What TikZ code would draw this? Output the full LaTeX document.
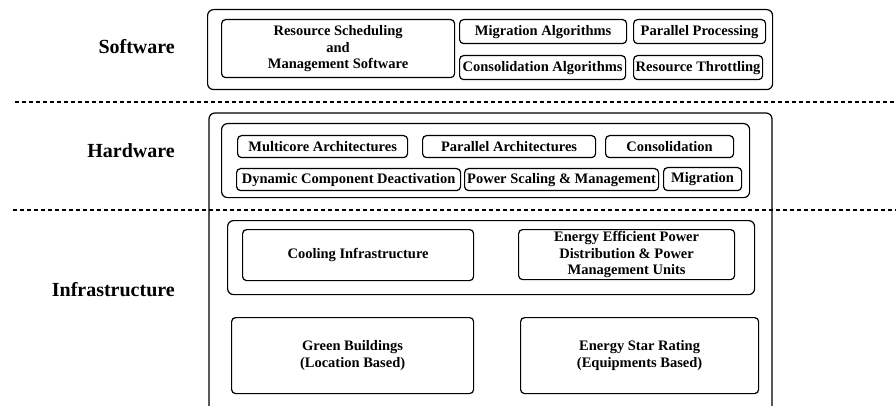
\documentclass[tikz,border=0pt]{standalone}
\usepackage{fontspec}
\setmainfont{Liberation Serif}
\begin{document}
\begin{tikzpicture}[x=1pt,y=-1pt,
  box/.style={draw, line width=1.2pt, rounded corners=4pt, align=center, inner sep=0pt,
    font=\fontsize{14.5}{16.5}\selectfont\bfseries, anchor=north west},
  panel/.style={draw, line width=1.2pt, rounded corners=6pt, inner sep=0pt, anchor=north west},
  sidelabel/.style={anchor=base east, inner sep=0pt, font=\fontsize{20}{24}\selectfont\bfseries},
  sepline/.style={line width=1.2pt, dash pattern=on 3.5pt off 3.5pt},
  bigframe/.style={line width=1.2pt, rounded corners=6pt}]
\useasboundingbox (0,0) rectangle (896,406);
% separators
\coordinate (s1a) at (15,102); \coordinate (s1b) at (896,102);
\coordinate (s2a) at (13,210); \coordinate (s2b) at (896,210);
\draw[sepline] (s1a) -- (s1b);
\draw[sepline] (s2a) -- (s2b);
% side labels
\node[sidelabel] (lsw) at (175,54) {Software};
\node[sidelabel] (lhw) at (175,158) {Hardware};
\node[sidelabel] (lin) at (175,296) {Infrastructure};
% software
\node[panel, minimum width=565pt, minimum height=80pt] (sw) at (207,9) {};
\node[box, minimum width=233pt, minimum height=58pt] (rs) at (221,19) {Resource Scheduling\\and\\Management Software};
\node[box, minimum width=167pt, minimum height=24pt] (ma) at (459,19) {Migration Algorithms};
\node[box, minimum width=132pt, minimum height=24pt] (pp) at (633,19) {Parallel Processing};
\node[box, minimum width=166pt, minimum height=24pt] (ca) at (459,55) {Consolidation Algorithms};
\node[box, minimum width=129pt, minimum height=24pt] (rt) at (633,55) {Resource Throttling};
% big frame (hardware + infrastructure)
\coordinate (fbl) at (209,406); \coordinate (ftl) at (209,113);
\coordinate (ftr) at (772,113); \coordinate (fbr) at (772,406);
\draw[bigframe] (fbl) -- (ftl) -- (ftr) -- (fbr);
% hardware
\node[panel, minimum width=528pt, minimum height=74pt] (hw) at (221,123) {};
\node[box, minimum width=170pt, minimum height=22pt] (mca) at (237,135) {Multicore Architectures};
\node[box, minimum width=173pt, minimum height=22pt] (pa) at (422,135) {Parallel Architectures};
\node[box, minimum width=128pt, minimum height=22pt] (cons) at (605,135) {Consolidation};
\node[box, minimum width=224pt, minimum height=22pt] (dcd) at (236,168) {Dynamic Component Deactivation};
\node[box, minimum width=194pt, minimum height=22pt] (psm) at (464,168) {Power Scaling \& Management};
\node[box, minimum width=78pt, minimum height=23pt] (mig) at (663,167) {Migration};
% infrastructure
\node[panel, minimum width=527pt, minimum height=74pt] (inf) at (227,220) {};
\node[box, minimum width=231pt, minimum height=51pt] (cool) at (242,229) {Cooling Infrastructure};
\node[box, minimum width=216pt, minimum height=50pt] (eep) at (518,229) {Energy Efficient Power\\Distribution \& Power\\Management Units};
\node[box, minimum width=242pt, minimum height=76pt] (gb) at (231,317) {Green Buildings\\(Location Based)};
\node[box, minimum width=238pt, minimum height=76pt] (esr) at (520,317) {Energy Star Rating\\(Equipments Based)};
\end{tikzpicture}
\end{document}
